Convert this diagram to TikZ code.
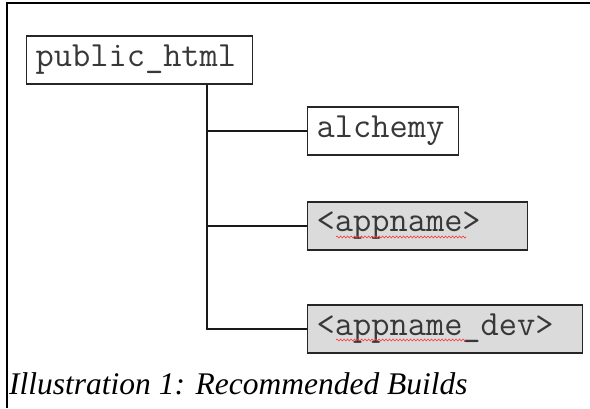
\documentclass[tikz,border=0pt]{standalone}
\usepackage{fontspec}
\setmainfont{Liberation Serif}
\newfontfamily\dirfont{Latin Modern Mono}
\usetikzlibrary{decorations.pathmorphing}
\begin{document}
\begin{tikzpicture}[x=1pt,y=1pt,
  dirbox/.style={draw=black!85, line width=1.3pt, minimum height=48pt, inner xsep=9pt, inner ysep=0pt, align=left, anchor=west, text=black!78, font=\dirfont\fontsize{35.4}{36}\selectfont},
  shaded/.style={fill=black!14},
  link/.style={draw=black!90, line width=1.3pt},
  squiggle/.style={draw=red!80, line width=0.6pt, decorate, decoration={snake, amplitude=1pt, segment length=3.5pt}}]
\useasboundingbox (0,0) rectangle (590,408);
% frame
\draw[line width=1.4pt] (7,0) -- (7,405) -- (590,405);
% nodes
\node[dirbox, fill=white, text width=208pt] (root) at (26,348) {public\_html};
\node[dirbox, fill=white, text width=133pt] (alch) at (307,277) {alchemy};
\node[dirbox, shaded, text width=202pt] (app) at (307,182) {<appname>};
\node[dirbox, shaded, text width=257pt] (dev) at (307,79) {<appname\_dev>};
\coordinate (trunk) at (207,0);
% connectors
\draw[link] (root.south -| trunk) -- (dev.west -| trunk) -- (dev.west);
\draw[link] (alch.west -| trunk) -- (alch.west);
\draw[link] (app.west -| trunk) -- (app.west);
% spell-check marks
\draw[squiggle] (336,171) -- (466,171);
\draw[squiggle] (336,68) -- (466,68);
% caption
\node[anchor=base west, inner sep=0pt, font=\itshape\fontsize{31.5}{32}\selectfont] (cap) at (9,14) {Illustration 1: Recommended Builds};
\end{tikzpicture}
\end{document}
